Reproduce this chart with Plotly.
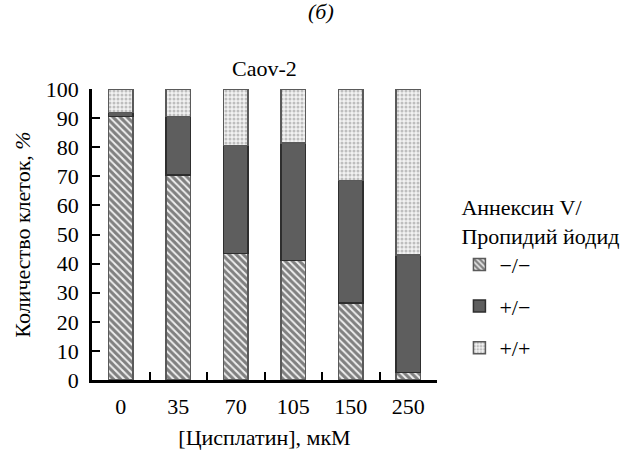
import plotly.graph_objects as go

categories = ["0", "35", "70", "105", "150", "250"]
neg_neg = [90.5, 70.5, 43.5, 41.0, 26.5, 2.5]
pos_neg = [1.5, 20.0, 37.0, 40.5, 42.0, 40.5]
pos_pos = [8.0, 9.5, 19.5, 18.5, 31.5, 57.0]
series_names = ["\u2212/\u2212", "+/\u2212", "+/+"]
y_ticks = list(range(0, 101, 10))

FONT = "Liberation Serif"

fig = go.Figure()
fig.add_trace(go.Bar(
    x=categories, y=neg_neg, name=series_names[0], legendgroup="a",
    marker=dict(color="#eeeeee", line=dict(color="#5a5a5a", width=1.5),
                pattern=dict(shape="\\", fgcolor="#111111", bgcolor="#eeeeee",
                             size=5, solidity=0.6)),
))
fig.add_trace(go.Bar(
    x=categories, y=pos_neg, name=series_names[1], legendgroup="b",
    marker=dict(color="#5e5e5e", line=dict(color="#2e2e2e", width=1.5)),
))
fig.add_trace(go.Bar(
    x=categories, y=pos_pos, name=series_names[2], legendgroup="c",
    marker=dict(color="#f2f2f2", line=dict(color="#5a5a5a", width=1.5),
                pattern=dict(shape=".", fgcolor="#8a8a8a", bgcolor="#f2f2f2",
                             size=4, solidity=0.45)),
))

fig.update_layout(
    barmode="stack",
    bargap=0.58,
    width=642, height=454,
    margin=dict(l=92, r=205, t=89, b=74),
    paper_bgcolor="white", plot_bgcolor="white",
    font=dict(family=FONT, size=22, color="black"),
    showlegend=True,
    legend=dict(
        x=1.065, xanchor="left", y=0.665, yanchor="top",
        title=dict(text="Аннексин V/<br>Пропидий йодид", font=dict(size=22, family=FONT)),
        font=dict(size=22, family=FONT),
        traceorder="grouped", tracegroupgap=10,
        itemwidth=30,
    ),
    annotations=[
        dict(text="<i>(б)</i>", x=0.664, xref="paper", xanchor="center",
             y=1.265, yref="paper", yanchor="middle",
             showarrow=False, font=dict(size=22, family=FONT)),
        dict(text="Caov-2", x=0.5, xref="paper", xanchor="center",
             y=1.0, yref="paper", yanchor="bottom", yshift=6,
             showarrow=False, font=dict(size=22, family=FONT)),
    ],
)

fig.update_xaxes(
    type="category", range=[-0.5, 5.5], automargin=False,
    showline=True, linecolor="black", linewidth=2.5,
    ticks="inside", ticklen=8, tickwidth=2, tickcolor="black",
    tickson="boundaries", ticklabelstandoff=5,
    tickfont=dict(size=22, family=FONT),
    showgrid=False, zeroline=False,
    title=dict(text="[Цисплатин], мкМ", standoff=12, font=dict(size=22, family=FONT)),
)
fig.update_yaxes(
    range=[0, 100], tickvals=y_ticks, automargin=False,
    showline=True, linecolor="black", linewidth=2.5,
    ticks="inside", ticklen=8, tickwidth=2, tickcolor="black",
    ticklabelstandoff=6,
    tickfont=dict(size=22, family=FONT),
    showgrid=False, zeroline=False,
    title=dict(text="Количество клеток, <i>%</i>", standoff=10, font=dict(size=22, family=FONT)),
)

fig.write_html("out.html")
